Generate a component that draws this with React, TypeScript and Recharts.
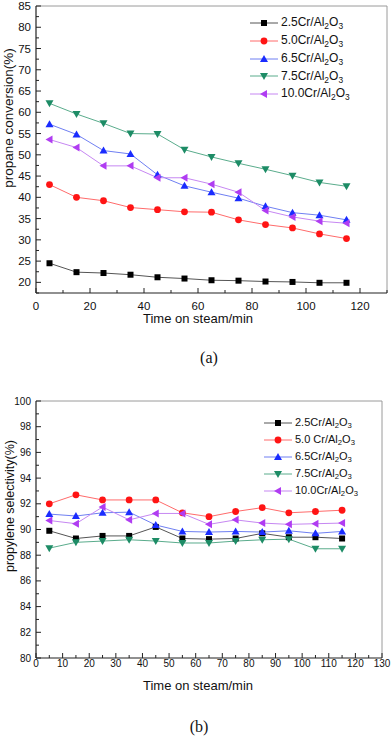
import { LineChart, Line, XAxis, YAxis, ReferenceLine } from "recharts";

const times = [5, 15, 25, 35, 45, 55, 65, 75, 85, 95, 105, 115];

// (a) propane conversion, %
const conv25 = [24.5, 22.4, 22.2, 21.8, 21.2, 20.9, 20.5, 20.4, 20.2, 20.1, 19.9, 19.9];
const conv50 = [43.0, 40.0, 39.2, 37.6, 37.1, 36.6, 36.5, 34.7, 33.6, 32.8, 31.4, 30.3];
const conv65 = [57.2, 54.8, 51.0, 50.2, 45.3, 42.7, 41.2, 39.8, 37.9, 36.4, 35.8, 34.7];
const conv75 = [62.1, 59.6, 57.4, 55.0, 54.9, 51.2, 49.5, 48.0, 46.6, 45.1, 43.5, 42.6];
const conv100 = [53.6, 51.7, 47.4, 47.4, 44.6, 44.6, 43.1, 41.2, 36.9, 35.4, 34.4, 33.9];

// (b) propylene selectivity, %
const sel25 = [89.9, 89.3, 89.5, 89.5, 90.2, 89.3, 89.25, 89.3, 89.7, 89.4, 89.4, 89.3];
const sel50 = [92.0, 92.7, 92.3, 92.3, 92.3, 91.3, 91.0, 91.4, 91.7, 91.3, 91.4, 91.5];
const sel65 = [91.2, 91.05, 91.3, 91.35, 90.35, 89.85, 89.8, 89.85, 89.8, 89.9, 89.7, 89.85];
const sel75 = [88.55, 89.0, 89.1, 89.2, 89.1, 88.95, 88.95, 89.1, 89.2, 89.25, 88.5, 88.5];
const sel100 = [90.7, 90.45, 91.75, 90.75, 91.25, 91.25, 90.4, 90.75, 90.5, 90.4, 90.45, 90.5];

const yTicksA = [17.5, 20, 22.5, 25, 27.5, 30, 32.5, 35, 37.5, 40, 42.5, 45, 47.5, 50, 52.5, 55, 57.5, 60, 62.5, 65, 67.5, 70, 72.5, 75, 77.5, 80, 82.5, 85];
const yMajorA = [20, 25, 30, 35, 40, 45, 50, 55, 60, 65, 70, 75, 80, 85];
const xTicksA = [0, 10, 20, 30, 40, 50, 60, 70, 80, 90, 100, 110, 120, 130];
const xMajorA = [0, 20, 40, 60, 80, 100, 120];

const yTicksB = [80, 81, 82, 83, 84, 85, 86, 87, 88, 89, 90, 91, 92, 93, 94, 95, 96, 97, 98, 99, 100];
const yMajorB = [80, 82, 84, 86, 88, 90, 92, 94, 96, 98, 100];
const xTicksB = [0, 5, 10, 15, 20, 25, 30, 35, 40, 45, 50, 55, 60, 65, 70, 75, 80, 85, 90, 95, 100, 105, 110, 115, 120, 125, 130];
const xMajorB = [0, 10, 20, 30, 40, 50, 60, 70, 80, 90, 100, 110, 120, 130];

const dataA = times.map((t, i) => ({ t, s25: conv25[i], s50: conv50[i], s65: conv65[i], s75: conv75[i], s100: conv100[i] }));
const dataB = times.map((t, i) => ({ t, s25: sel25[i], s50: sel50[i], s65: sel65[i], s75: sel75[i], s100: sel100[i] }));

const font = '"Liberation Sans", Arial, sans-serif';

type Shape = "square" | "circle" | "up" | "down" | "left";

const series: { key: string; shape: Shape; fill: string; line: string; label: string; labelB: string }[] = [
  { key: "s25", shape: "square", fill: "#000000", line: "#555555", label: "2.5Cr/Al", labelB: "2.5Cr/Al" },
  { key: "s50", shape: "circle", fill: "#ff1414", line: "#ff6b6b", label: "5.0Cr/Al", labelB: "5.0 Cr/Al" },
  { key: "s65", shape: "up", fill: "#1a2cff", line: "#6f7ff2", label: "6.5Cr/Al", labelB: "6.5Cr/Al" },
  { key: "s75", shape: "down", fill: "#1d8c66", line: "#5aac8c", label: "7.5Cr/Al", labelB: "7.5Cr/Al" },
  { key: "s100", shape: "left", fill: "#b03cf2", line: "#c687f2", label: "10.0Cr/Al", labelB: "10.0Cr/Al" },
];

function Marker({ cx, cy, shape, fill }: { cx: number; cy: number; shape: Shape; fill: string }) {
  if (cx == null || cy == null) return null;
  if (shape === "square") return <rect x={cx - 3} y={cy - 3} width={6} height={6} fill={fill} />;
  if (shape === "circle") return <circle cx={cx} cy={cy} r={3.4} fill={fill} />;
  if (shape === "up") return <polygon points={`${cx},${cy - 4} ${cx + 4},${cy + 3} ${cx - 4},${cy + 3}`} fill={fill} />;
  if (shape === "down") return <polygon points={`${cx},${cy + 4} ${cx + 4},${cy - 3} ${cx - 4},${cy - 3}`} fill={fill} />;
  return <polygon points={`${cx - 4},${cy} ${cx + 3},${cy - 4} ${cx + 3},${cy + 4}`} fill={fill} />;
}

function yTick(majors: number[], fontSize: number) {
  return (props: any) => {
    const { x, y, payload } = props;
    const major = majors.includes(payload.value);
    return (
      <g>
        <line x1={x} x2={x + (major ? 5 : 3)} y1={y} y2={y} stroke="#222" strokeWidth={1} />
        {major && (
          <text x={x - 5} y={y} dy="0.35em" textAnchor="end" fontSize={fontSize} fontFamily={font} fill="#111">
            {payload.value}
          </text>
        )}
      </g>
    );
  };
}

function xTick(majors: number[], fontSize: number, dy: number) {
  return (props: any) => {
    const { x, y, payload } = props;
    const major = majors.includes(payload.value);
    return (
      <g>
        <line x1={x} x2={x} y1={y} y2={y - (major ? 5 : 3)} stroke="#222" strokeWidth={1} />
        {major && (
          <text x={x} y={y + dy} textAnchor="middle" fontSize={fontSize} fontFamily={font} fill="#111">
            {payload.value}
          </text>
        )}
      </g>
    );
  };
}

function Legend({ left, top, gap, fontSize, b }: { left: number; top: number; gap: number; fontSize: number; b?: boolean }) {
  return (
    <div style={{ position: "absolute", left, top, fontFamily: font, fontSize, color: "#111" }}>
      {series.map((s, i) => (
        <div key={s.key} style={{ position: "absolute", top: i * gap, left: 0, display: "flex", alignItems: "center", whiteSpace: "nowrap", height: 14, marginTop: -7 }}>
          <svg width={28} height={12} style={{ marginRight: 3 }}>
            <line x1={0} x2={28} y1={6} y2={6} stroke={s.line} strokeWidth={1} />
            <Marker cx={14} cy={6} shape={s.shape} fill={s.fill} />
          </svg>
          <span>
            {b ? s.labelB : s.label}
            <sub style={{ fontSize: "70%", verticalAlign: "-0.3em" }}>2</sub>O
            <sub style={{ fontSize: "70%", verticalAlign: "-0.3em" }}>3</sub>
          </span>
        </div>
      ))}
    </div>
  );
}

function renderLines() {
  return series.map((s) => (
    <Line
      key={s.key}
      type="linear"
      dataKey={s.key}
      stroke={s.line}
      strokeWidth={1}
      isAnimationActive={false}
      dot={(p: any) => <Marker key={p.index} cx={p.cx} cy={p.cy} shape={s.shape} fill={s.fill} />}
      activeDot={false}
    />
  ));
}

export default function App() {
  return (
    <div style={{ position: "absolute", left: 0, top: 0, width: 392, height: 738, background: "#fff", fontFamily: font }}>
      <div style={{ position: "absolute", left: 0, top: 0 }}>
        <LineChart width={392} height={370} data={dataA} margin={{ top: 6, right: 5, left: 35, bottom: 76 }}>
          <XAxis dataKey="t" type="number" domain={[0, 130]} ticks={xTicksA} interval={0} height={1} tickSize={0} tickMargin={0}
            axisLine={{ stroke: "#222", strokeWidth: 1.2 }} tickLine={false} tick={xTick(xMajorA, 11.5, 17)} />
          <YAxis type="number" domain={[17.5, 85]} ticks={yTicksA} interval={0} width={1} tickSize={0} tickMargin={0}
            axisLine={{ stroke: "#222", strokeWidth: 1.2 }} tickLine={false} tick={yTick(yMajorA, 11.5)} allowDataOverflow />
          <ReferenceLine y={85} stroke="#9a9a9a" strokeWidth={1} />
          <ReferenceLine x={130} stroke="#9a9a9a" strokeWidth={1} />
          {renderLines()}
        </LineChart>
      </div>
      <Legend left={250} top={23} gap={17.8} fontSize={12} />
      <div style={{ position: "absolute", left: 8, top: 118, transform: "translate(-50%, -50%) rotate(-90deg)", fontSize: 13.5, whiteSpace: "nowrap", color: "#111" }}>
        propane conversion(%)
      </div>
      <div style={{ position: "absolute", left: 198, top: 318, transform: "translate(-50%, -50%)", fontSize: 13, whiteSpace: "nowrap", color: "#111" }}>
        Time on steam/min
      </div>
      <div style={{ position: "absolute", left: 209, top: 358, transform: "translate(-50%, -50%)", fontSize: 16, fontFamily: '"Liberation Serif", "Times New Roman", serif', color: "#111" }}>
        (a)
      </div>

      <div style={{ position: "absolute", left: 0, top: 370 }}>
        <LineChart width={392} height={368} data={dataB} margin={{ top: 31, right: 10, left: 35, bottom: 79 }}>
          <XAxis dataKey="t" type="number" domain={[0, 130]} ticks={xTicksB} interval={0} height={1} tickSize={0} tickMargin={0}
            axisLine={{ stroke: "#222", strokeWidth: 1.2 }} tickLine={false} tick={xTick(xMajorB, 10, 9)} />
          <YAxis type="number" domain={[80, 100]} ticks={yTicksB} interval={0} width={1} tickSize={0} tickMargin={0}
            axisLine={{ stroke: "#222", strokeWidth: 1.2 }} tickLine={false} tick={yTick(yMajorB, 10)} />
          <ReferenceLine y={100} stroke="#9a9a9a" strokeWidth={1} />
          <ReferenceLine x={130} stroke="#9a9a9a" strokeWidth={1} />
          {renderLines()}
        </LineChart>
      </div>
      <Legend left={264} top={423} gap={17} fontSize={11} b />
      <div style={{ position: "absolute", left: 10, top: 506, transform: "translate(-50%, -50%) rotate(-90deg)", fontSize: 12.5, whiteSpace: "nowrap", color: "#111" }}>
        propylene selectivity(%)
      </div>
      <div style={{ position: "absolute", left: 198, top: 685, transform: "translate(-50%, -50%)", fontSize: 13, whiteSpace: "nowrap", color: "#111" }}>
        Time on steam/min
      </div>
      <div style={{ position: "absolute", left: 199, top: 727, transform: "translate(-50%, -50%)", fontSize: 16, fontFamily: '"Liberation Serif", "Times New Roman", serif', color: "#111" }}>
        (b)
      </div>
    </div>
  );
}
